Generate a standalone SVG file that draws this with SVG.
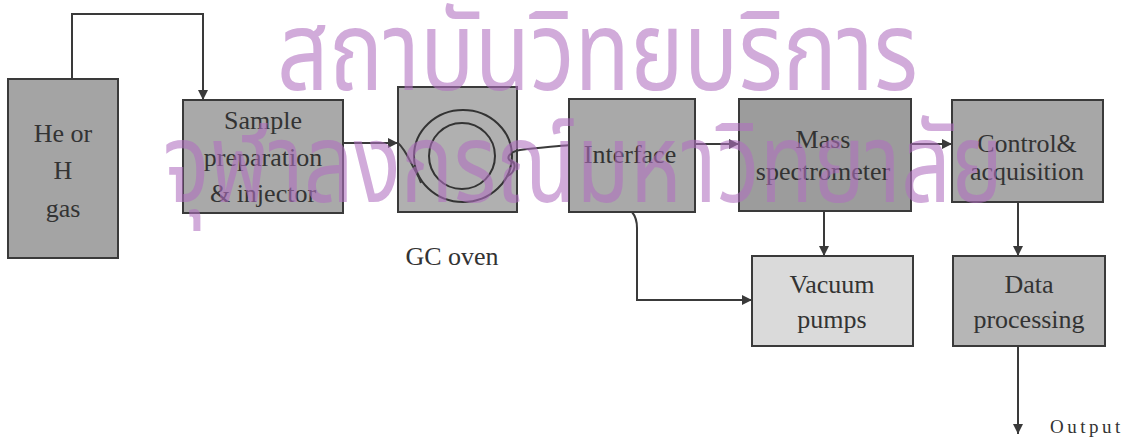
<svg xmlns="http://www.w3.org/2000/svg" width="1127" height="441" viewBox="0 0 1127 441">
  <style>
    .box { stroke: #3a3a3a; stroke-width: 2; }
    .lbl { font-family: "Liberation Serif", "Times New Roman", serif; font-size: 26px; fill: #333333; text-anchor: middle; }
    .out { font-family: "Liberation Serif", "Times New Roman", serif; font-size: 19px; fill: #333333; letter-spacing: 3.5px; }
    .wire { fill: none; stroke: #3a3a3a; stroke-width: 2; }
    .wm { font-family: "Noto Sans Thai", "Noto Sans", "DejaVu Sans", sans-serif; fill: #b070c0; opacity: 0.58; }
  </style>
  <defs>
    <marker id="arr" viewBox="0 0 10 10" refX="10" refY="5" markerWidth="10" markerHeight="10" markerUnits="userSpaceOnUse" orient="auto">
      <path d="M0,0 L10,5 L0,10 z" fill="#3a3a3a"/>
    </marker>
  </defs>
  <rect width="1127" height="441" fill="#ffffff"/>

  <g id="connectors">
    <path class="wire" d="M72,79 L72,14 L203,14 L203,100" marker-end="url(#arr)"/>
    <path class="wire" d="M343,143 L398,143" marker-end="url(#arr)"/>
    <path class="wire" d="M695,144 L739,144" marker-end="url(#arr)"/>
    <path class="wire" d="M911,144 L952,144" marker-end="url(#arr)"/>
    <path class="wire" d="M824,211 L824,256" marker-end="url(#arr)"/>
    <path class="wire" d="M1018,202 L1018,256" marker-end="url(#arr)"/>
    <path class="wire" d="M632,212 Q637,218 637,228 L637,300 L752,300" marker-end="url(#arr)"/>
    <path class="wire" d="M1018,346 L1018,434" marker-end="url(#arr)"/>
  </g>

  <g id="he-gas">
    <rect class="box" x="8" y="79" width="110" height="179" fill="#a4a4a4"/>
    <text class="lbl" x="63" y="142">He or</text>
    <text class="lbl" x="63" y="179">H</text>
    <text class="lbl" x="63" y="217">gas</text>
  </g>

  <g id="sample">
    <rect class="box" x="183" y="100" width="160" height="113" fill="#a9a9a9"/>
    <text class="lbl" x="263" y="129">Sample</text>
    <text class="lbl" x="263" y="166">preparation</text>
    <text class="lbl" x="263" y="202">&amp; injector</text>
  </g>

  <g id="gc-oven">
    <rect class="box" x="398" y="87" width="119" height="125" fill="#b0b0b0"/>
    <ellipse cx="463" cy="156" rx="49" ry="46" fill="none" stroke="#333333" stroke-width="2"/>
    <circle cx="462" cy="156" r="33" fill="none" stroke="#333333" stroke-width="2"/>
    <path class="wire" d="M398,143 C406,150 410,162 416,172 C419,177 420,180 421,183"/>
    <path class="wire" d="M507,176 C515,173 517,163 511,161 C506,159 508,152 520,150 C535,148 550,147 570,145"/>
    <text class="lbl" x="452" y="265">GC oven</text>
  </g>

  <g id="interface">
    <rect class="box" x="569" y="99" width="126" height="113" fill="#a9a9a9"/>
    <text class="lbl" x="630" y="163">Interface</text>
  </g>

  <g id="mass-spec">
    <rect class="box" x="739" y="99" width="172" height="112" fill="#9c9c9c"/>
    <text class="lbl" x="823" y="148">Mass</text>
    <text class="lbl" x="823" y="180">spectrometer</text>
  </g>

  <g id="control">
    <rect class="box" x="952" y="100" width="151" height="102" fill="#a7a7a7"/>
    <text class="lbl" x="1027" y="152">Control&amp;</text>
    <text class="lbl" x="1027" y="180">acquisition</text>
  </g>

  <g id="vacuum">
    <rect class="box" x="752" y="256" width="161" height="90" fill="#dadada"/>
    <text class="lbl" x="832" y="293">Vacuum</text>
    <text class="lbl" x="832" y="328">pumps</text>
  </g>

  <g id="data">
    <rect class="box" x="953" y="256" width="152" height="90" fill="#b6b6b6"/>
    <text class="lbl" x="1029" y="293">Data</text>
    <text class="lbl" x="1029" y="328">processing</text>
  </g>

  <g id="output">
    <text class="out" x="1050" y="433">Output</text>
  </g>

  <g id="watermark">
    <text class="wm" x="277" y="90" font-size="110" textLength="641" lengthAdjust="spacingAndGlyphs">สถาบันวิทยบริการ</text>
    <text class="wm" x="163" y="202" font-size="110" textLength="840" lengthAdjust="spacingAndGlyphs">จุฬาลงกรณ์มหาวิทยาลัย</text>
  </g>
</svg>
